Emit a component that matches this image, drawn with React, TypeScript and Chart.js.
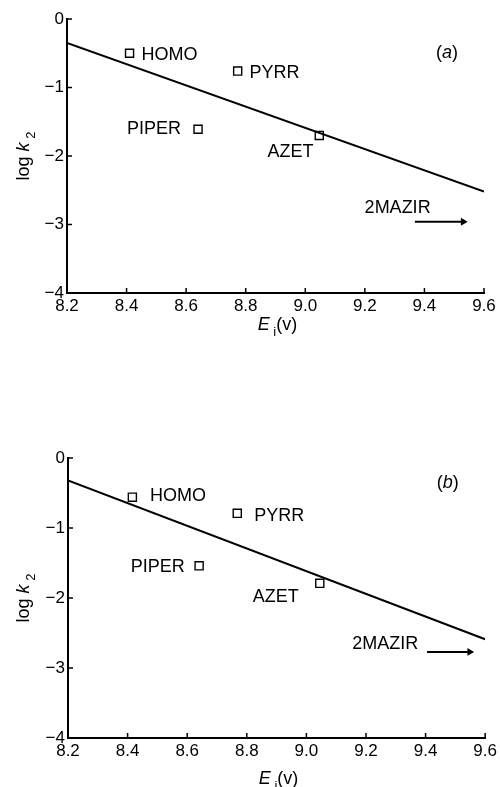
import React, { useEffect, useRef } from "react";
import { Chart, registerables } from "chart.js";

Chart.register(...registerables);

// ---------- data ----------
const COMPOUNDS = ["HOMO", "PYRR", "PIPER", "AZET"];
const X_TICKS = [8.2, 8.4, 8.6, 8.8, 9.0, 9.2, 9.4, 9.6];
const Y_TICKS = [0, -1, -2, -3, -4];

// panel (a)
const A_EI = [8.41, 8.773, 8.64, 9.047];
const A_LOGK = [-0.5, -0.76, -1.61, -1.7];
const A_FIT_EI = [8.2, 9.6];
const A_FIT_LOGK = [-0.35, -2.52];
const A_LABEL_EI = [8.544, 8.897, 8.492, 8.95];
const A_LABEL_LOGK = [-0.5, -0.77, -1.59, -1.92];
const A_MAZIR_LABEL = [9.31, -2.74];
const A_ARROW_EI = [9.368, 9.53];
const A_ARROW_LOGK = [-2.96, -2.96];
const A_TAG = [9.476, -0.48];

// panel (b)
const B_EI = [8.416, 8.768, 8.64, 9.045];
const B_LOGK = [-0.56, -0.79, -1.54, -1.79];
const B_FIT_EI = [8.2, 9.6];
const B_FIT_LOGK = [-0.32, -2.59];
const B_LABEL_EI = [8.569, 8.909, 8.501, 8.897];
const B_LABEL_LOGK = [-0.52, -0.81, -1.53, -1.97];
const B_MAZIR_LABEL = [9.265, -2.64];
const B_ARROW_EI = [9.405, 9.548];
const B_ARROW_LOGK = [-2.77, -2.77];
const B_TAG = [9.474, -0.33];

const FONT = '"Liberation Sans", Arial, Helvetica, sans-serif';

type Seg = { t: string; italic?: boolean; small?: boolean };

function drawRich(
  ctx: CanvasRenderingContext2D,
  segs: Seg[],
  x: number,
  y: number,
  size: number,
  rotate = 0
) {
  ctx.save();
  ctx.translate(x, y);
  ctx.rotate(rotate);
  ctx.fillStyle = "#000";
  ctx.textAlign = "left";
  ctx.textBaseline = "alphabetic";
  const fontFor = (s: Seg) =>
    `${s.italic ? "italic " : ""}${s.small ? Math.round(size * 0.72) : size}px ${FONT}`;
  const widths = segs.map((s) => {
    ctx.font = fontFor(s);
    return ctx.measureText(s.t).width;
  });
  const total = widths.reduce((a, b) => a + b, 0);
  let cx = -total / 2;
  const base = size * 0.36;
  segs.forEach((s, i) => {
    ctx.font = fontFor(s);
    ctx.fillText(s.t, cx, base + (s.small ? size * 0.28 : 0));
    cx += widths[i];
  });
  ctx.restore();
}

type PanelProps = {
  tag: string;
  ei: number[];
  logk: number[];
  fitEi: number[];
  fitLogk: number[];
  labelEi: number[];
  labelLogk: number[];
  mazirLabel: number[];
  arrowEi: number[];
  arrowLogk: number[];
  tagPos: number[];
  top: number;
  height: number;
  padTop: number;
  padRight: number;
  axisLeft: number;
  axisBottomHeight: number;
  xTitleOffset: number;
};

function Panel(p: PanelProps) {
  const ref = useRef<HTMLCanvasElement | null>(null);

  useEffect(() => {
    if (!ref.current) return;
    const annot = {
      id: "annot",
      afterDatasetsDraw(chart: any) {
        const ctx: CanvasRenderingContext2D = chart.ctx;
        const xs = chart.scales.x;
        const ys = chart.scales.y;
        const area = chart.chartArea;
        // inward tick marks
        ctx.save();
        ctx.strokeStyle = "#000";
        ctx.lineWidth = 1.5;
        xs.ticks.forEach((t: any) => {
          const px = xs.getPixelForValue(t.value);
          ctx.beginPath();
          ctx.moveTo(px, area.bottom);
          ctx.lineTo(px, area.bottom - 5);
          ctx.stroke();
        });
        ys.ticks.forEach((t: any) => {
          const py = ys.getPixelForValue(t.value);
          ctx.beginPath();
          ctx.moveTo(area.left, py);
          ctx.lineTo(area.left + 5, py);
          ctx.stroke();
        });
        ctx.restore();
        // compound labels
        COMPOUNDS.forEach((name, i) => {
          drawRich(
            ctx,
            [{ t: name }],
            xs.getPixelForValue(p.labelEi[i]),
            ys.getPixelForValue(p.labelLogk[i]),
            18
          );
        });
        drawRich(
          ctx,
          [{ t: "2MAZIR" }],
          xs.getPixelForValue(p.mazirLabel[0]),
          ys.getPixelForValue(p.mazirLabel[1]),
          18
        );
        drawRich(
          ctx,
          [{ t: "(" }, { t: p.tag, italic: true }, { t: ")" }],
          xs.getPixelForValue(p.tagPos[0]),
          ys.getPixelForValue(p.tagPos[1]),
          18
        );
        // axis titles
        drawRich(
          ctx,
          [{ t: "E", italic: true }, { t: " i", small: true }, { t: "(v)" }],
          (area.left + area.right) / 2 + 2,
          area.bottom + p.xTitleOffset,
          18
        );
        drawRich(
          ctx,
          [{ t: "log " }, { t: "k", italic: true }, { t: " 2", small: true }],
          23,
          (area.top + area.bottom) / 2,
          18,
          -Math.PI / 2
        );
      },
    };

    const chart = new Chart(ref.current, {
      type: "scatter",
      data: {
        datasets: [
          {
            type: "line",
            data: p.fitEi.map((x, i) => ({ x, y: p.fitLogk[i] })),
            borderColor: "#000",
            borderWidth: 2,
            pointRadius: 0,
            fill: false,
          },
          {
            data: p.ei.map((x, i) => ({ x, y: p.logk[i] })),
            pointStyle: "rect",
            pointRadius: 5.7,
            borderWidth: 1.4,
            borderColor: "#000",
            backgroundColor: "#fff",
          },
          {
            type: "line",
            data: p.arrowEi.map((x, i) => ({ x, y: p.arrowLogk[i] })),
            borderColor: "#000",
            borderWidth: 2,
            pointRadius: [0, 4.5],
            pointStyle: "triangle",
            pointRotation: 90,
            pointBorderWidth: 0,
            pointBackgroundColor: "#000",
            fill: false,
          },
        ] as any,
      },
      options: {
        animation: false,
        responsive: false,
        events: [],
        layout: {
          padding: { left: 0, top: p.padTop, right: p.padRight, bottom: 0 },
        },
        plugins: {
          legend: { display: false },
          tooltip: { enabled: false },
        },
        scales: {
          x: {
            type: "linear",
            min: 8.2,
            max: 9.6,
            grid: { display: false, drawTicks: false },
            border: { display: true, color: "#000", width: 2 },
            afterBuildTicks: (s: any) => {
              s.ticks = X_TICKS.map((v) => ({ value: v }));
            },
            afterFit: (s: any) => {
              s.height = p.axisBottomHeight;
            },
            ticks: {
              color: "#000",
              padding: 3,
              font: { family: FONT, size: 17 },
              callback: (v: any) => Number(v).toFixed(1),
              maxRotation: 0,
              autoSkip: false,
            },
          },
          y: {
            type: "linear",
            min: -4,
            max: 0,
            grid: { display: false, drawTicks: false },
            border: { display: true, color: "#000", width: 2 },
            afterBuildTicks: (s: any) => {
              s.ticks = Y_TICKS.map((v) => ({ value: v }));
            },
            afterFit: (s: any) => {
              s.width = p.axisLeft;
            },
            ticks: {
              color: "#000",
              padding: 3,
              font: { family: FONT, size: 17 },
              callback: (v: any) =>
                Number(v) < 0 ? "\u2212" + Math.abs(Number(v)) : String(v),
              autoSkip: false,
            },
          },
        },
      } as any,
      plugins: [annot],
    });
    return () => chart.destroy();
  }, []);

  return (
    <canvas
      ref={ref}
      width={500}
      height={p.height}
      style={{ position: "absolute", left: 0, top: p.top, display: "block" }}
    />
  );
}

export default function App() {
  return (
    <div
      style={{
        position: "absolute",
        left: 0,
        top: 0,
        width: 500,
        height: 787,
        background: "#fff",
      }}
    >
      <Panel
        tag="a"
        ei={A_EI}
        logk={A_LOGK}
        fitEi={A_FIT_EI}
        fitLogk={A_FIT_LOGK}
        labelEi={A_LABEL_EI}
        labelLogk={A_LABEL_LOGK}
        mazirLabel={A_MAZIR_LABEL}
        arrowEi={A_ARROW_EI}
        arrowLogk={A_ARROW_LOGK}
        tagPos={A_TAG}
        top={0}
        height={393}
        padTop={19}
        padRight={16}
        axisLeft={67}
        axisBottomHeight={100}
        xTitleOffset={31}
      />
      <Panel
        tag="b"
        ei={B_EI}
        logk={B_LOGK}
        fitEi={B_FIT_EI}
        fitLogk={B_FIT_LOGK}
        labelEi={B_LABEL_EI}
        labelLogk={B_LABEL_LOGK}
        mazirLabel={B_MAZIR_LABEL}
        arrowEi={B_ARROW_EI}
        arrowLogk={B_ARROW_LOGK}
        tagPos={B_TAG}
        top={393}
        height={394}
        padTop={65}
        padRight={13}
        axisLeft={68}
        axisBottomHeight={49}
        xTitleOffset={40}
      />
    </div>
  );
}
